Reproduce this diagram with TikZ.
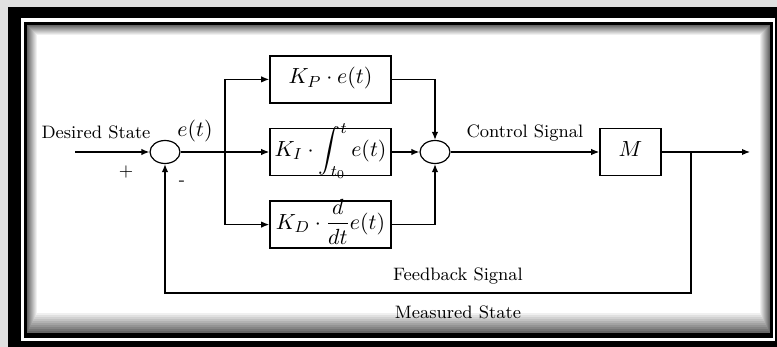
\documentclass[tikz,border=0pt]{standalone}
\usepackage{amsmath}
\usetikzlibrary{arrows.meta,positioning,shapes.geometric}
\definecolor{bgcolor}{gray}{0.88}

\begin{document}
\begin{tikzpicture}[
  x=0.5pt,y=-0.5pt,
  node distance=12pt,
  blk/.style={draw,line width=0.8pt,minimum width=60.5pt,text height=13pt,text depth=8.5pt,inner xsep=2pt,inner ysep=1pt,font=\fontsize{10.95}{13}\selectfont},
  junc/.style={draw,ellipse,minimum width=15pt,minimum height=11.5pt,inner sep=0pt,line width=0.6pt},
  arr/.style={-{Latex[length=4pt,width=3.2pt]},line width=0.6pt},
  lbl/.style={font=\small,inner sep=1pt}
]
\useasboundingbox (0,0) rectangle (777,347);
\fill[bgcolor] (0,0) rectangle (777,347);
\fill[black] (8,7) rectangle (777,347);
\fill[white] (21,18) rectangle (775,341);
\fill[black] (24,22) rectangle (773,338);
\foreach \i [evaluate=\i as \c using int(60-6*\i)] in {0,...,10}
  \fill[black!\c] ({27+\i},{25+\i}) rectangle ({770-\i},{333-2*\i});

\coordinate (in) at (75,152);
\node[junc] (sum1) at (165,152) {};
\coordinate (split) at (225,152);
\node[blk] (ki) at (330.5,152) {$K_I\cdot\displaystyle\int_{t_0}^{t}e(t)$};
\node[blk,above=of ki] (kp) {$K_P\cdot e(t)$};
\node[blk,below=of ki] (kd) {$K_D\cdot\dfrac{d}{dt}e(t)$};
\node[junc] (sum2) at (435,152) {};
\node[blk,minimum width=30.5pt] (plant) at (630.5,152) {$M$};
\coordinate (tap) at (691,152);
\coordinate (out) at (750,152);
\coordinate (fb) at (691,293);

\node[lbl] (desired) at (96,132) {Desired State};
\node[font=\fontsize{10.95}{13}\selectfont] (err) at (195,131) {$e(t)$};
\node[lbl] (plus) at (126,172) {$+$};
\node[lbl] (minus) at (182,183) {-};
\node[lbl] (fbsig) at (458,276) {Feedback Signal};
\node[lbl] (meas) at (458,312) {Measured State};

\draw[arr] (in) -- (sum1);
\draw[arr] (sum1) -- (ki);
\draw[arr] (split) |- (kp);
\draw[arr] (split) |- (kd);
\draw[arr] (kp) -| (sum2);
\draw[arr] (ki) -- (sum2);
\draw[arr] (kd) -| (sum2);
\draw[arr] (sum2) -- node[lbl,above=4pt] (ctrl) {Control Signal} (plant);
\draw[arr] (plant) -- (out);
\draw[arr] (tap) -- (fb) -| (sum1);
\end{tikzpicture}
\end{document}
